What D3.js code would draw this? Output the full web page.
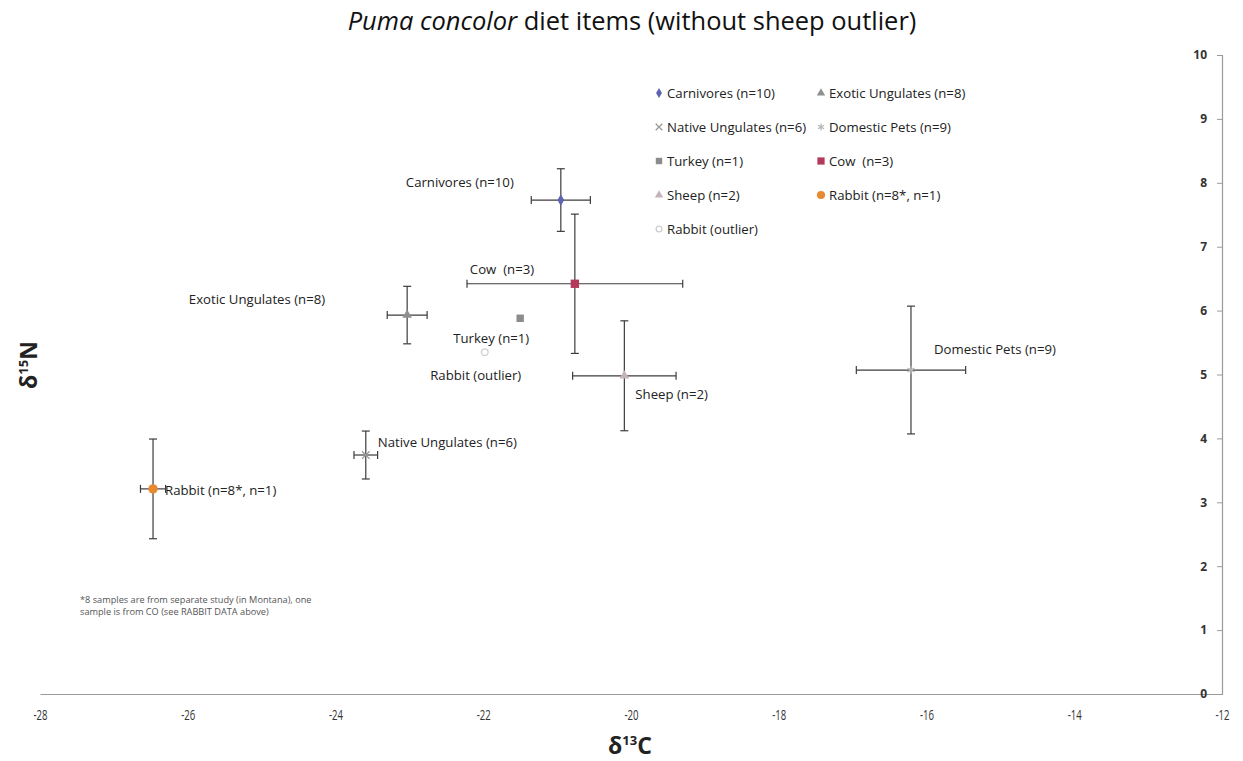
<!DOCTYPE html>
<html>
<head>
<meta charset="utf-8">
<script src="https://cdn.jsdelivr.net/npm/d3@7"></script>
<style>
  html, body { margin: 0; padding: 0; background: #fff; }
  svg { display: block; }
  text { font-family: "Open Sans", Lato, sans-serif; white-space: pre; }
</style>
</head>
<body>
<svg id="chart" width="1243" height="761"></svg>
<script>
// Diet item groups: mean δ13C / δ15N with ± error (same order everywhere)
const groups = [
  "Carnivores (n=10)", "Exotic Ungulates (n=8)", "Native Ungulates (n=6)",
  "Domestic Pets (n=9)", "Turkey (n=1)", "Cow  (n=3)", "Sheep (n=2)",
  "Rabbit (n=8*, n=1)", "Rabbit (outlier)"
];
const meanC13 = [-20.95, -23.03, -23.59, -16.21, -21.50, -20.76, -20.09, -26.47, -21.98];
const meanN15 = [7.73, 5.93, 3.74, 5.07, 5.88, 6.42, 4.98, 3.21, 5.35];
const errC13  = [0.40, 0.27, 0.16, 0.74, 0, 1.46, 0.70, 0.17, 0];
const errN15  = [0.49, 0.45, 0.375, 1.00, 0, 1.09, 0.86, 0.78, 0];

const xTicks = [-28, -26, -24, -22, -20, -18, -16, -14, -12];
const yTicks = [0, 1, 2, 3, 4, 5, 6, 7, 8, 9, 10];

const footnote = [
  "*8 samples are from separate study (in Montana), one",
  "sample is from CO (see RABBIT DATA above)"
];

// Marker styling per group
const markerStyle = [
  { shape: d3.symbolDiamond, fill: "#5e64ae", stroke: "none", size: 40 },
  { shape: d3.symbolTriangle, fill: "#8f8f8f", stroke: "none", size: 40 },
  { shape: d3.symbolTimes || d3.symbolX, fill: "none", stroke: "#9a9a9a", size: 40 },
  { shape: d3.symbolAsterisk, fill: "none", stroke: "#b5b5b5", size: 45 },
  { shape: d3.symbolSquare, fill: "#8c8c8c", stroke: "none", size: 55 },
  { shape: d3.symbolSquare, fill: "#b43a5c", stroke: "none", size: 70 },
  { shape: d3.symbolTriangle, fill: "#c4b4ba", stroke: "none", size: 40 },
  { shape: d3.symbolCircle, fill: "#e88a30", stroke: "none", size: 70 },
  { shape: d3.symbolCircle, fill: "#fff", stroke: "#cfcfcf", size: 35 }
];
// Point label placement (pixel offsets from the point, text anchor)
const labelPlace = [
  { dx: -47, dy: -13, anchor: "end" },
  { dx: -82, dy: -11, anchor: "end" },
  { dx: 12, dy: -8, anchor: "start" },
  { dx: 23, dy: -16, anchor: "start" },
  { dx: -29, dy: 25, anchor: "middle" },
  { dx: -105, dy: -10, anchor: "start" },
  { dx: 11, dy: 23, anchor: "start" },
  { dx: 12, dy: 6, anchor: "start" },
  { dx: -9, dy: 28, anchor: "middle" }
];
const labelSize = 13.2;

const svg = d3.select("#chart");
const x = d3.scaleLinear().domain([-28, -12]).range([40, 1222]);
const y = d3.scaleLinear().domain([0, 10]).range([694, 55]);

// Title, sized to span the plot's upper centre
const title = svg.append("text")
  .attr("x", 632).attr("y", 30)
  .attr("text-anchor", "middle")
  .attr("font-size", 21).attr("font-weight", 500).attr("fill", "#111");
title.append("tspan").attr("font-style", "italic").text("Puma concolor");
title.append("tspan").text(" diet items (without sheep outlier)");
{
  const w = title.node().getComputedTextLength();
  title.attr("font-size", 21 * 569 / w);
}

// X axis along δ15N = 0
const xAxis = svg.append("g")
  .attr("transform", `translate(0,${y(0)})`)
  .call(d3.axisBottom(x).tickValues(xTicks).tickSize(0).tickPadding(20)
        .tickFormat(d => d3.format("d")(d).replace("\u2212", "-")));
xAxis.select(".domain").attr("stroke", "#9a9a9a").attr("stroke-width", 1.2);
xAxis.selectAll(".tick text")
  .attr("font-family", "'Liberation Sans Narrow', 'DejaVu Sans Condensed', sans-serif")
  .attr("font-size", 12).attr("fill", "#333")
  .attr("transform", "scale(0.8,1.15)")
  .attr("dy", "0.2em");

// Y axis along δ13C = -12
const yAxis = svg.append("g")
  .attr("transform", `translate(${x(-12)},0)`)
  .call(d3.axisLeft(y).tickValues(yTicks).tickSize(5).tickPadding(10));
yAxis.select(".domain").attr("stroke", "#9a9a9a").attr("stroke-width", 1.2);
yAxis.selectAll(".tick line").attr("stroke", "#9a9a9a");
yAxis.selectAll(".tick text")
  .attr("font-family", "'Liberation Serif', 'DejaVu Serif', serif")
  .attr("font-size", 12).attr("font-weight", "bold").attr("fill", "#333");

// Axis titles
const xt = svg.append("text")
  .attr("x", 630).attr("y", 754)
  .attr("text-anchor", "middle")
  .attr("font-size", 23).attr("font-weight", "bold").attr("fill", "#222");
xt.append("tspan").text("δ");
xt.append("tspan").attr("font-size", 13).attr("dy", -9).text("13");
xt.append("tspan").attr("dy", 9).text("C");

const yt = svg.append("text")
  .attr("transform", `translate(37,365) rotate(-90)`)
  .attr("text-anchor", "middle")
  .attr("font-size", 23).attr("font-weight", "bold").attr("fill", "#222");
yt.append("tspan").text("δ");
yt.append("tspan").attr("font-size", 13).attr("dy", -9).text("15");
yt.append("tspan").attr("dy", 9).text("N");

// Error bars
const bars = svg.append("g").attr("stroke", "#3c3c3c").attr("stroke-width", 1.2).attr("fill", "none");
const cap = 4;
groups.forEach((g, i) => {
  const cx = x(meanC13[i]), cy = y(meanN15[i]);
  if (errC13[i] > 0) {
    const x0 = x(meanC13[i] - errC13[i]), x1 = x(meanC13[i] + errC13[i]);
    bars.append("line").attr("x1", x0).attr("x2", x1).attr("y1", cy).attr("y2", cy);
    bars.append("line").attr("x1", x0).attr("x2", x0).attr("y1", cy - cap).attr("y2", cy + cap);
    bars.append("line").attr("x1", x1).attr("x2", x1).attr("y1", cy - cap).attr("y2", cy + cap);
  }
  if (errN15[i] > 0) {
    const y0 = y(meanN15[i] - errN15[i]), y1 = y(meanN15[i] + errN15[i]);
    bars.append("line").attr("x1", cx).attr("x2", cx).attr("y1", y0).attr("y2", y1);
    bars.append("line").attr("x1", cx - cap).attr("x2", cx + cap).attr("y1", y0).attr("y2", y0);
    bars.append("line").attr("x1", cx - cap).attr("x2", cx + cap).attr("y1", y1).attr("y2", y1);
  }
});

// Markers
function drawMarker(sel, st) {
  sel.append("path")
    .attr("d", d3.symbol().type(st.shape).size(st.size)())
    .attr("fill", st.fill)
    .attr("stroke", st.stroke)
    .attr("stroke-width", st.stroke === "none" ? 0 : 1.3);
}
groups.forEach((g, i) => {
  const m = svg.append("g").attr("transform", `translate(${x(meanC13[i])},${y(meanN15[i])})`);
  drawMarker(m, markerStyle[i]);
});

// Point labels
groups.forEach((g, i) => {
  const p = labelPlace[i];
  svg.append("text")
    .attr("x", x(meanC13[i]) + p.dx)
    .attr("y", y(meanN15[i]) + p.dy)
    .attr("text-anchor", p.anchor)
    .attr("font-size", labelSize).attr("fill", "#222")
    .text(g);
});

// Legend (two columns)
const legend = svg.append("g").attr("transform", "translate(659,93)");
groups.forEach((g, k) => {
  const col = k % 2, row = Math.floor(k / 2);
  const item = legend.append("g").attr("transform", `translate(${col * 162},${row * 34})`);
  const st = markerStyle[k];
  drawMarker(item, Object.assign({}, st, { size: st.size * 0.75 }));
  item.append("text").attr("x", 8).attr("y", 4.5)
    .attr("font-size", labelSize).attr("fill", "#222")
    .text(g);
});

// Footnote
svg.append("g").selectAll("text").data(footnote).join("text")
  .attr("x", 80).attr("y", (d, i) => 603 + i * 12)
  .attr("font-size", 9.2).attr("fill", "#555")
  .text(d => d);
</script>
</body>
</html>
